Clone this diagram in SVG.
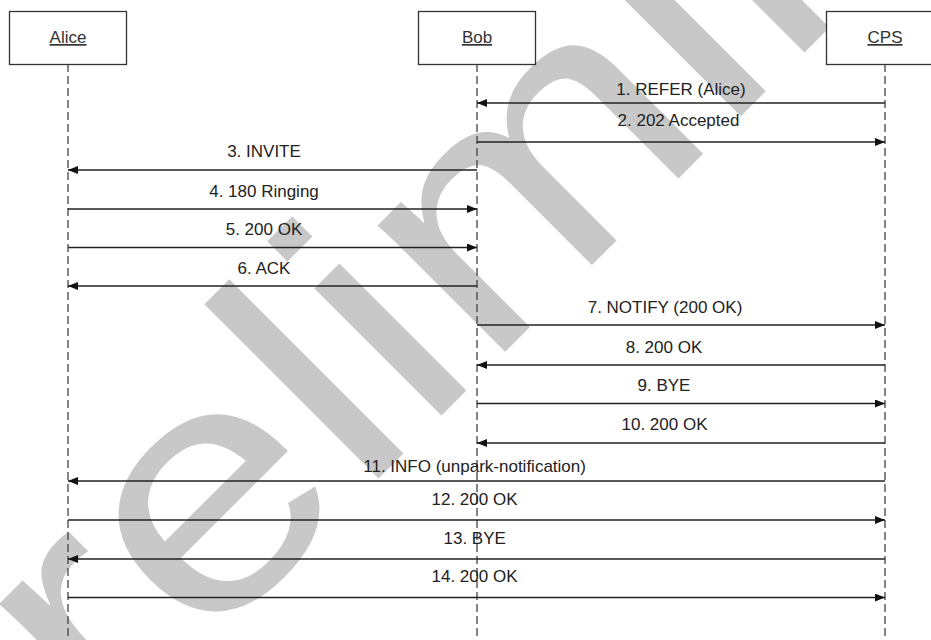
<svg xmlns="http://www.w3.org/2000/svg" width="931" height="640" viewBox="0 0 931 640">
<style>
.box{fill:#fff;stroke:#333;stroke-width:1.3}
.name{font-family:"Liberation Sans",Arial,sans-serif;font-size:17px;fill:#333;text-anchor:middle;text-decoration:underline}
.life{stroke:#444;stroke-width:1.3;stroke-dasharray:8 4;fill:none}
.msg{stroke:#222;stroke-width:1.3;fill:none;marker-end:url(#ah)}
.lbl{font-family:"Liberation Sans",Arial,sans-serif;font-size:17px;fill:#222;text-anchor:middle}
.wm{font-family:"Liberation Sans",Arial,sans-serif;font-size:340px;fill:#c8c8c8}
</style>
<defs>
<marker id="ah" markerUnits="userSpaceOnUse" viewBox="0 0 10 8" markerWidth="10" markerHeight="8" refX="10" refY="4" orient="auto">
<path d="M0,0 L10,4 L0,8 z" fill="#111"/>
</marker>
</defs>
<rect width="931" height="640" fill="#fff"/>
<text class="wm" transform="translate(-82,939) rotate(-45) scale(1.18,1)">Preliminary</text>
<g id="lifelines">
<line class="life" x1="68" y1="64" x2="68" y2="640"/>
<line class="life" x1="477" y1="64" x2="477" y2="640"/>
<line class="life" x1="885" y1="64" x2="885" y2="640"/>
</g>
<g id="alice"><rect class="box" x="9.5" y="11.5" width="117" height="53"/><text class="name" x="68" y="43">Alice</text></g>
<g id="bob"><rect class="box" x="418.5" y="11.5" width="117" height="53"/><text class="name" x="477" y="43">Bob</text></g>
<g id="cps"><rect class="box" x="826.5" y="11.5" width="117" height="53"/><text class="name" x="885" y="43">CPS</text></g>
<g id="connectors">
<line class="msg" x1="885" y1="103" x2="477" y2="103"/>
<line class="msg" x1="477" y1="142" x2="885" y2="142"/>
<line class="msg" x1="477" y1="170" x2="68" y2="170"/>
<line class="msg" x1="68" y1="209" x2="477" y2="209"/>
<line class="msg" x1="68" y1="247.5" x2="477" y2="247.5"/>
<line class="msg" x1="477" y1="286" x2="68" y2="286"/>
<line class="msg" x1="477" y1="325" x2="885" y2="325"/>
<line class="msg" x1="885" y1="365" x2="477" y2="365"/>
<line class="msg" x1="477" y1="403.5" x2="885" y2="403.5"/>
<line class="msg" x1="885" y1="443" x2="477" y2="443"/>
<line class="msg" x1="885" y1="481" x2="68" y2="481"/>
<line class="msg" x1="68" y1="520" x2="885" y2="520"/>
<line class="msg" x1="885" y1="559" x2="68" y2="559"/>
<line class="msg" x1="68" y1="597.5" x2="885" y2="597.5"/>
</g>
<g id="labels">
<text class="lbl" x="681" y="95">1. REFER (Alice)</text>
<text class="lbl" x="678.5" y="125.5">2. 202 Accepted</text>
<text class="lbl" x="264" y="157">3. INVITE</text>
<text class="lbl" x="264" y="196.5">4. 180 Ringing</text>
<text class="lbl" x="264" y="235">5. 200 OK</text>
<text class="lbl" x="264" y="273.5">6. ACK</text>
<text class="lbl" x="665" y="312.5">7. NOTIFY (200 OK)</text>
<text class="lbl" x="664" y="352.5">8. 200 OK</text>
<text class="lbl" x="664" y="390.5">9. BYE</text>
<text class="lbl" x="664.5" y="429.5">10. 200 OK</text>
<text class="lbl" x="474.6" y="471.5">11. INFO (unpark-notification)</text>
<text class="lbl" x="474.5" y="505">12. 200 OK</text>
<text class="lbl" x="474.7" y="544">13. BYE</text>
<text class="lbl" x="474.5" y="581.5">14. 200 OK</text>
</g>
</svg>
